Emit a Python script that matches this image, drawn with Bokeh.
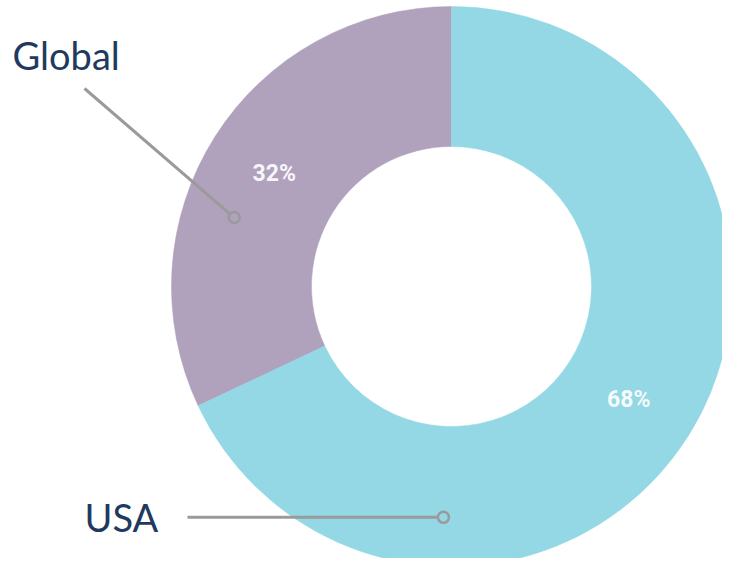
import math
from bokeh.plotting import figure
from bokeh.models import Range1d, ColumnDataSource
from bokeh.core.properties import value
from bokeh.embed import file_html
from bokeh.resources import INLINE

# ---- data ----
categories = ["Global", "USA"]
shares = [32, 68]
colors = ["#B0A2BD", "#93D8E4"]

# ---- layout (pixels; data units == pixels, y measured up from page bottom) ----
W, H = 722, 558
TOP = 566
CX, CY = 451, TOP - 286
R_OUT, R_IN = 280, 140

p = figure(width=W, height=H, output_backend="svg", toolbar_location=None,
           x_range=Range1d(0, W), y_range=Range1d(TOP - H, TOP),
           min_border=0)
p.axis.visible = False
p.grid.visible = False
p.outline_line_color = None
p.background_fill_color = "white"

total = sum(shares)
starts, ends, mids = [], [], []
a = math.pi / 2
for s in shares:
    span = 2 * math.pi * s / total
    starts.append(a)
    ends.append(a + span)
    mids.append(a + span / 2)
    a += span

src = ColumnDataSource(dict(cat=categories, start=starts, end=ends, color=colors))
p.annular_wedge(x=CX, y=CY, inner_radius=R_IN, outer_radius=R_OUT,
                start_angle="start", end_angle="end", direction="anticlock",
                fill_color="color", line_color="color", line_width=0.5, source=src)

# percentage labels at mid-ring
r_mid = (R_IN + R_OUT) / 2
px = [CX + r_mid * math.cos(m) for m in mids]
py = [CY + r_mid * math.sin(m) for m in mids]
p.text(x=px, y=py, text=[f"{s}%" for s in shares], text_color="white",
       text_font=value("Roboto"), text_font_style="bold", text_font_size="23px",
       text_align="center", text_baseline="middle", text_alpha=0.92)

# leader lines and category labels
GRAY = "#9A9A9A"
# Global
g_dot = (CX + 228 * math.cos(math.radians(162.4)), CY + 228 * math.sin(math.radians(162.4)))
p.line(x=[84, g_dot[0] - 4], y=[TOP - 88, g_dot[1] + 3.5], line_color=GRAY, line_width=3)
p.scatter(x=[g_dot[0]], y=[g_dot[1]], size=11, marker="circle", fill_color=None,
          line_color=GRAY, line_width=2.5)
# USA
u_dot = (CX + 231 * math.cos(math.radians(268)), CY + 231 * math.sin(math.radians(268)))
p.line(x=[187, u_dot[0] - 5], y=[u_dot[1], u_dot[1]], line_color=GRAY, line_width=3)
p.scatter(x=[u_dot[0]], y=[u_dot[1]], size=11, marker="circle", fill_color=None,
          line_color=GRAY, line_width=2.5)

p.text(x=[12, 84], y=[TOP - 54, TOP - 516], text=categories,
       text_color="#1F3A5F", text_font=value("Lato"), text_font_size="38px",
       text_align="left", text_baseline="middle")

open("out.html", "w").write(file_html(p, INLINE))
